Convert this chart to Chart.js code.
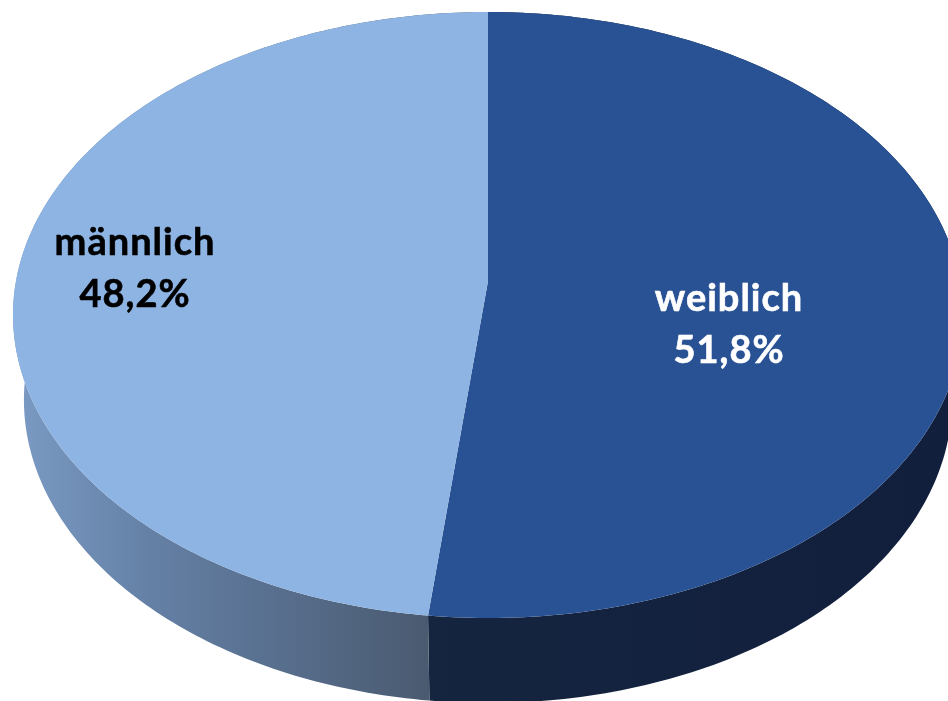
<!DOCTYPE html>
<html>
<head>
<meta charset="utf-8">
<style>
  html, body { margin: 0; padding: 0; background: #fff; }
  canvas { display: block; }
</style>
<script src="https://cdnjs.cloudflare.com/ajax/libs/Chart.js/4.4.1/chart.umd.min.js"></script>
</head>
<body>
<canvas id="genderChart" width="948" height="701"></canvas>
<script>
const categories = ['weiblich', 'männlich'];
const shares = [51.8, 48.2];
const shareLabels = ['51,8%', '48,2%'];

const topColors = ['#295295', '#8eb4e3'];
const labelColors = ['#ffffff', '#000000'];
const labelCenters = [[729, 325], [135, 269]];

// perspective of the tilted disc, fitted to the picture
const cx = 488, apexY = 281, topY = 12, bottomY = 618, halfWidth = 472;
const c = (2 * apexY - topY - bottomY) / (bottomY - topY);
const a = bottomY * (1 + c) - apexY;
const depth = 85, lowerScale = 0.977;

function project(angle, lower) {
  const u = Math.cos(angle), v = Math.sin(angle);
  const w = 1 + c * v;
  let x = cx + halfWidth * u / w;
  let y = (a * v + apexY) / w;
  if (lower) {
    x = cx + (x - cx) * lowerScale;
    y += depth;
  }
  return [x, y];
}

function sideFill(ctx, i) {
  if (i === 0) {
    const g = ctx.createLinearGradient(430, 0, 948, 0);
    g.addColorStop(0, '#15243f');
    g.addColorStop(1, '#111f3d');
    return g;
  }
  const g = ctx.createLinearGradient(20, 0, 428, 0);
  g.addColorStop(0, '#7a9ac3');
  g.addColorStop(0.32, '#6480a5');
  g.addColorStop(0.68, '#566c8a');
  g.addColorStop(1, '#4a5a70');
  return g;
}

const tiltedPie = {
  id: 'tiltedPie',
  beforeDatasetDraw(chart, args) {
    const ctx = chart.ctx;
    const arcs = chart.getDatasetMeta(args.index).data;
    const steps = 200;

    // side walls first, the top covers whatever is behind it
    arcs.forEach((arc, i) => {
      ctx.beginPath();
      for (let s = 0; s <= steps; s++) {
        const t = arc.startAngle + (arc.endAngle - arc.startAngle) * s / steps;
        const p = project(t, false);
        s === 0 ? ctx.moveTo(p[0], p[1]) : ctx.lineTo(p[0], p[1]);
      }
      for (let s = steps; s >= 0; s--) {
        const t = arc.startAngle + (arc.endAngle - arc.startAngle) * s / steps;
        const p = project(t, true);
        ctx.lineTo(p[0], p[1]);
      }
      ctx.closePath();
      ctx.fillStyle = sideFill(ctx, i);
      ctx.fill();
    });

    arcs.forEach((arc, i) => {
      ctx.beginPath();
      ctx.moveTo(cx, apexY);
      for (let s = 0; s <= steps; s++) {
        const t = arc.startAngle + (arc.endAngle - arc.startAngle) * s / steps;
        const p = project(t, false);
        ctx.lineTo(p[0], p[1]);
      }
      ctx.closePath();
      ctx.fillStyle = topColors[i];
      ctx.fill();
    });
    return false;
  },
  afterDatasetsDraw(chart) {
    const ctx = chart.ctx;
    ctx.save();
    ctx.font = 'bold 38px Lato';
    ctx.letterSpacing = '1px';
    ctx.textAlign = 'center';
    ctx.textBaseline = 'middle';
    ctx.lineWidth = 0.6;
    categories.forEach((name, i) => {
      ctx.fillStyle = labelColors[i];
      ctx.strokeStyle = labelColors[i];
      [[name, -26], [shareLabels[i], 26]].forEach(([text, dy]) => {
        ctx.fillText(text, labelCenters[i][0], labelCenters[i][1] + dy);
        ctx.strokeText(text, labelCenters[i][0], labelCenters[i][1] + dy);
      });
    });
    ctx.restore();
  }
};

const ctx1 = document.getElementById('genderChart').getContext('2d');
const genderChart = new Chart(ctx1, {
  type: 'pie',
  data: {
    labels: categories,
    datasets: [{
      data: shares,
      backgroundColor: topColors,
      borderWidth: 0
    }]
  },
  options: {
    responsive: false,
    animation: false,
    plugins: {
      legend: { display: false },
      tooltip: { enabled: false }
    }
  },
  plugins: [tiltedPie]
});
</script>
</body>
</html>
